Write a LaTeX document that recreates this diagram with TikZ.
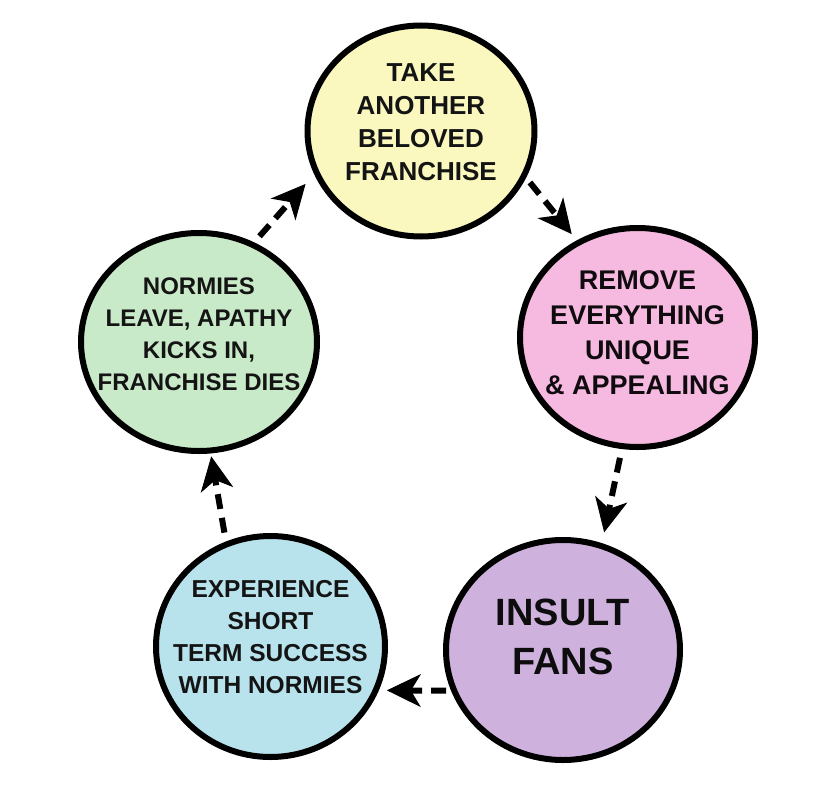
\documentclass[tikz,border=0pt]{standalone}
\usepackage{fontspec}
\setmainfont{Liberation Sans}
\usetikzlibrary{arrows.meta,shapes.geometric}

\definecolor{takeyellow}{HTML}{FBF8BF}
\definecolor{removepink}{HTML}{F6B9E0}
\definecolor{insultpurple}{HTML}{CFB1DE}
\definecolor{successblue}{HTML}{B8E2EC}
\definecolor{normiegreen}{HTML}{C9EAC8}

\tikzset{
  stage/.style={ellipse, draw=black, line width=6pt, align=center,
    inner xsep=-30pt, inner ysep=0pt},
  flow/.style={line width=6pt, dash pattern=on 15pt off 9pt,
    -{Stealth[length=34pt, width=33pt, inset=10pt, line width=1pt]}},
}

\begin{document}
\begin{tikzpicture}[x=1pt, y=-1pt]
  \useasboundingbox[fill=white] (0,0) rectangle (828,795);

  % Stages of the cycle
  \node[stage, fill=takeyellow, minimum width=227pt, minimum height=211pt, text depth=17pt,
        font=\fontsize{26}{33}\selectfont\bfseries, text=black!92]
        (take) at (421,131) {TAKE\\ANOTHER\\BELOVED\\FRANCHISE};
  \node[stage, fill=removepink, minimum width=235pt, minimum height=219pt, text depth=10pt,
        font=\fontsize{27}{35}\selectfont\bfseries, text=black!85!removepink!40!black]
        (remove) at (637.5,337.5) {REMOVE\\EVERYTHING\\UNIQUE\\\& APPEALING};
  \node[stage, fill=insultpurple, minimum width=234pt, minimum height=220pt, text depth=26pt,
        font=\fontsize{38}{49}\selectfont\bfseries, text=black!95]
        (insult) at (563,650) {INSULT\\FANS};
  \node[stage, fill=successblue, minimum width=229pt, minimum height=221pt, text depth=19pt,
        font=\fontsize{24.5}{32}\selectfont\bfseries, text=black!92]
        (success) at (270.5,646.5) {EXPERIENCE\\SHORT\\TERM SUCCESS\\WITH NORMIES};
  \node[stage, fill=normiegreen, minimum width=236pt, minimum height=218pt, text depth=16pt,
        font=\fontsize{24}{32}\selectfont\bfseries, text=black!92]
        (normies) at (199,342) {NORMIES\\LEAVE, APATHY\\KICKS IN,\\FRANCHISE DIES};

  % Dashed arrows round the cycle
  \draw[flow, shorten <=8pt, shorten >=13pt] (normies.61) -- (take.202);
  \draw[flow, shorten <=6pt, shorten >=8pt] (take.336) -- (remove.122);
  \draw[flow, shorten <=9pt, shorten >=11pt] (remove.262) -- (insult.70);
  \draw[flow, shorten <=5pt, shorten >=8pt] (insult.200) -- (success.338);
  \draw[flow, shorten <=9pt, shorten >=3pt] (success.113) -- (normies.276);
\end{tikzpicture}
\end{document}
